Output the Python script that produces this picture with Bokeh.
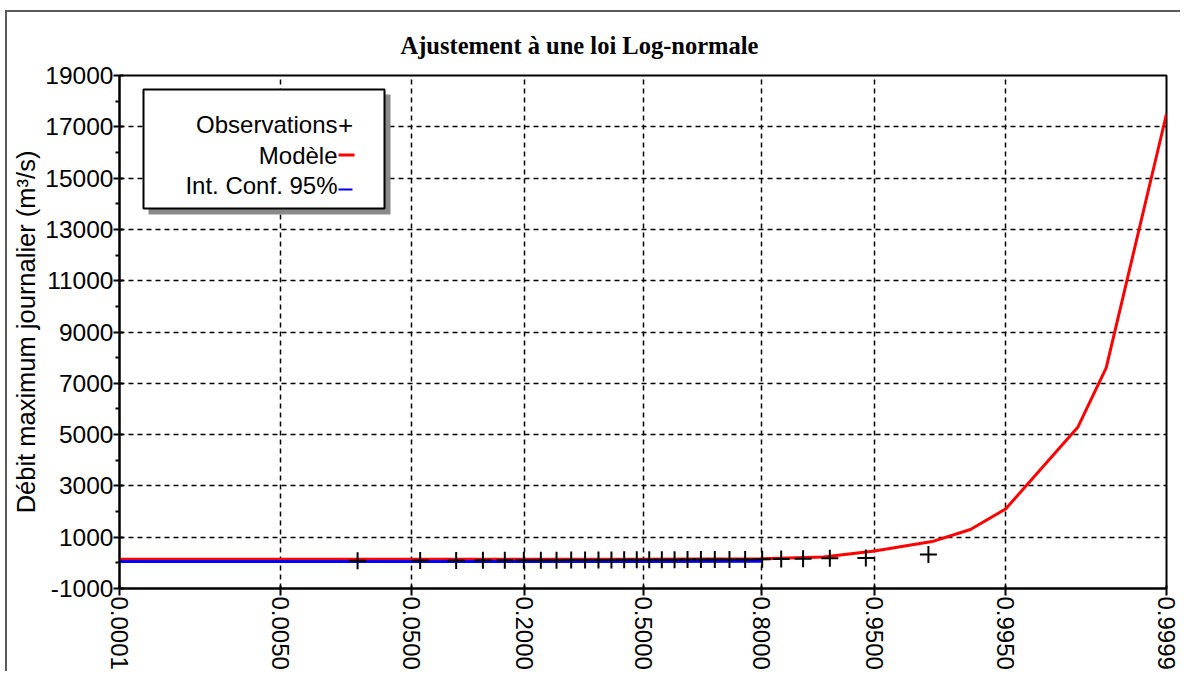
from statistics import NormalDist
from bokeh.plotting import figure
from bokeh.models import Range1d, FixedTicker, Label, BoxAnnotation
from bokeh.embed import file_html
from bokeh.resources import INLINE

z = NormalDist().inv_cdf

# ---- data ----
x_tick_probs = [0.0001, 0.0050, 0.0500, 0.2000, 0.5000, 0.8000, 0.9500, 0.9950, 0.9999]
x_tick_labels = ["0.0001", "0.0050", "0.0500", "0.2000", "0.5000", "0.8000", "0.9500", "0.9950", "0.9999"]
y_ticks = [-1000, 1000, 3000, 5000, 7000, 9000, 11000, 13000, 15000, 17000, 19000]
y_tick_labels = ["-1000", "1000", "3000", "5000", "7000", "9000", "11000", "13000", "15000", "17000", "19000"]
y_minor = [0, 2000, 4000, 6000, 8000, 10000, 12000, 14000, 16000, 18000]

obs_p = [0.0213, 0.0567, 0.0922, 0.1277, 0.1631, 0.1986, 0.2340, 0.2695, 0.3050, 0.3404,
         0.3759, 0.4113, 0.4468, 0.4823, 0.5177, 0.5532, 0.5887, 0.6241, 0.6596, 0.6950,
         0.7305, 0.7660, 0.8014, 0.8369, 0.8723, 0.9078, 0.9433, 0.9787]
obs_q = [85, 90, 95, 98, 100, 102, 104, 106, 108, 110,
         112, 114, 116, 118, 120, 122, 124, 126, 128, 130,
         132, 135, 140, 150, 160, 175, 190, 330]

model_p = [0.0001, 0.0050, 0.0500, 0.2000, 0.5000, 0.8000, 0.9000, 0.9500,
           0.9800, 0.9900, 0.9950, 0.9990, 0.9995, 0.9999]
model_q = [140, 140, 140, 140, 140, 160, 226, 460, 830, 1300, 2100, 5300, 7600, 17500]

ci_p = [0.0001, 0.0050, 0.0500, 0.2000, 0.5000, 0.8000]
ci_lower = [50, 50, 50, 50, 50, 60]
ci_upper = [60, 60, 60, 60, 60, 90]

# ---- figure (shifted 7px/12px in; a shadow draws the window frame on left/top) ----
x_lo, x_hi = z(x_tick_probs[0]), z(x_tick_probs[-1])
p = figure(width=1175, height=661,
           x_range=Range1d(x_lo, x_hi), y_range=Range1d(-1000, 19000),
           output_backend="svg", toolbar_location=None,
           min_border_left=112, min_border_right=16,
           min_border_top=63, min_border_bottom=85)
p.styles = {"position": "relative", "left": "7px", "top": "12px",
            "overflow": "hidden",
            "box-shadow": "-2px -2px 0px 0px #5a5a5a"}

p.title.text = "Ajustement à une loi Log-normale"
p.title.text_font = "Liberation Serif"
p.title.text_font_style = "bold"
p.title.text_font_size = "24.5px"
p.title.text_color = "black"
p.title.align = "left"
p.title.offset = 281
p.title.standoff = 33

p.outline_line_color = "black"
p.outline_line_width = 2
p.background_fill_color = "white"
p.border_fill_color = "white"

x_ticks = [z(v) for v in x_tick_probs]
p.xaxis.ticker = FixedTicker(ticks=x_ticks)
p.xaxis.major_label_overrides = {t: lab for t, lab in zip(x_ticks, x_tick_labels)}
p.xaxis.major_label_orientation = "vertical"
p.yaxis.ticker = FixedTicker(ticks=y_ticks, minor_ticks=y_minor)
p.yaxis.major_label_overrides = {t: lab for t, lab in zip(y_ticks, y_tick_labels)}

for ax in (p.xaxis, p.yaxis):
    ax.axis_line_width = 2
    ax.axis_line_color = "black"
    ax.major_tick_line_color = "black"
    ax.major_tick_line_width = 2
    ax.minor_tick_line_color = "black"
    ax.minor_tick_line_width = 2
    ax.major_label_text_font = "Liberation Sans"
    ax.major_label_text_color = "black"

p.xaxis.major_label_text_font_size = "24px"
p.xaxis.major_label_standoff = 1
p.xaxis.major_tick_out = 7
p.xaxis.major_tick_in = 3
p.xaxis.minor_tick_out = 0
p.xaxis.minor_tick_in = 0

p.yaxis.major_label_text_font_size = "24.5px"
p.yaxis.major_label_standoff = 0
p.yaxis.major_tick_out = 6
p.yaxis.major_tick_in = 4
p.yaxis.minor_tick_out = 4
p.yaxis.minor_tick_in = 0
p.yaxis.axis_label = "Débit maximum journalier (m³/s)"
p.yaxis.axis_label_text_font = "Liberation Sans"
p.yaxis.axis_label_text_font_size = "25.5px"
p.yaxis.axis_label_text_font_style = "normal"
p.yaxis.axis_label_text_color = "black"
p.yaxis.axis_label_standoff = 2

for g in (p.xgrid, p.ygrid):
    g.grid_line_color = "black"
    g.grid_line_dash = "5 4"
    g.grid_line_width = 1.5
p.ygrid.ticker = FixedTicker(ticks=y_ticks)
p.xgrid.ticker = FixedTicker(ticks=x_ticks)

# ---- glyphs ----
p.line([z(v) for v in model_p], model_q, line_color="#ff0000", line_width=3)
p.line([z(v) for v in ci_p], ci_lower, line_color="#0000ff", line_width=3)
p.line([z(v) for v in ci_p], ci_upper, line_color="#0000ff", line_width=2)
p.scatter([z(v) for v in obs_p], obs_q, marker="cross", size=17,
          line_color="black", line_width=2)

# ---- custom legend (page pixel -> data helpers) ----
FX0, FX1, FY0, FY1 = 119, 1166, 75, 588
def X(px):
    return x_lo + (px - FX0) * (x_hi - x_lo) / (FX1 - FX0)
def Y(py):
    return 19000 - (py - FY0) * 20000 / (FY1 - FY0)

p.add_layout(BoxAnnotation(left=X(148), right=X(390), top=Y(94), bottom=Y(214),
                           fill_color="#8a8a8a", fill_alpha=1, line_alpha=0))
p.add_layout(BoxAnnotation(left=X(143), right=X(384), top=Y(89), bottom=Y(208),
                           fill_color="white", fill_alpha=1,
                           line_color="black", line_width=2, line_alpha=1))
for txt, py in (("Observations", 124), ("Modèle", 155), ("Int. Conf. 95%", 185)):
    p.add_layout(Label(x=X(337), y=Y(py), text=txt, text_align="right",
                       text_baseline="middle", text_font="Liberation Sans",
                       text_font_size="24px", text_color="black"))
p.add_layout(Label(x=X(345), y=Y(124), text="+", text_align="center",
                   text_baseline="middle", text_font="Liberation Sans",
                   text_font_size="26px", text_color="black"))
p.add_layout(BoxAnnotation(left=X(338), right=X(354), top=Y(153), bottom=Y(156),
                           fill_color="#ff0000", fill_alpha=1, line_alpha=0))
p.add_layout(BoxAnnotation(left=X(338), right=X(352), top=Y(188), bottom=Y(190),
                           fill_color="#0000ff", fill_alpha=1, line_alpha=0))

open("out.html", "w").write(file_html(p, INLINE))
